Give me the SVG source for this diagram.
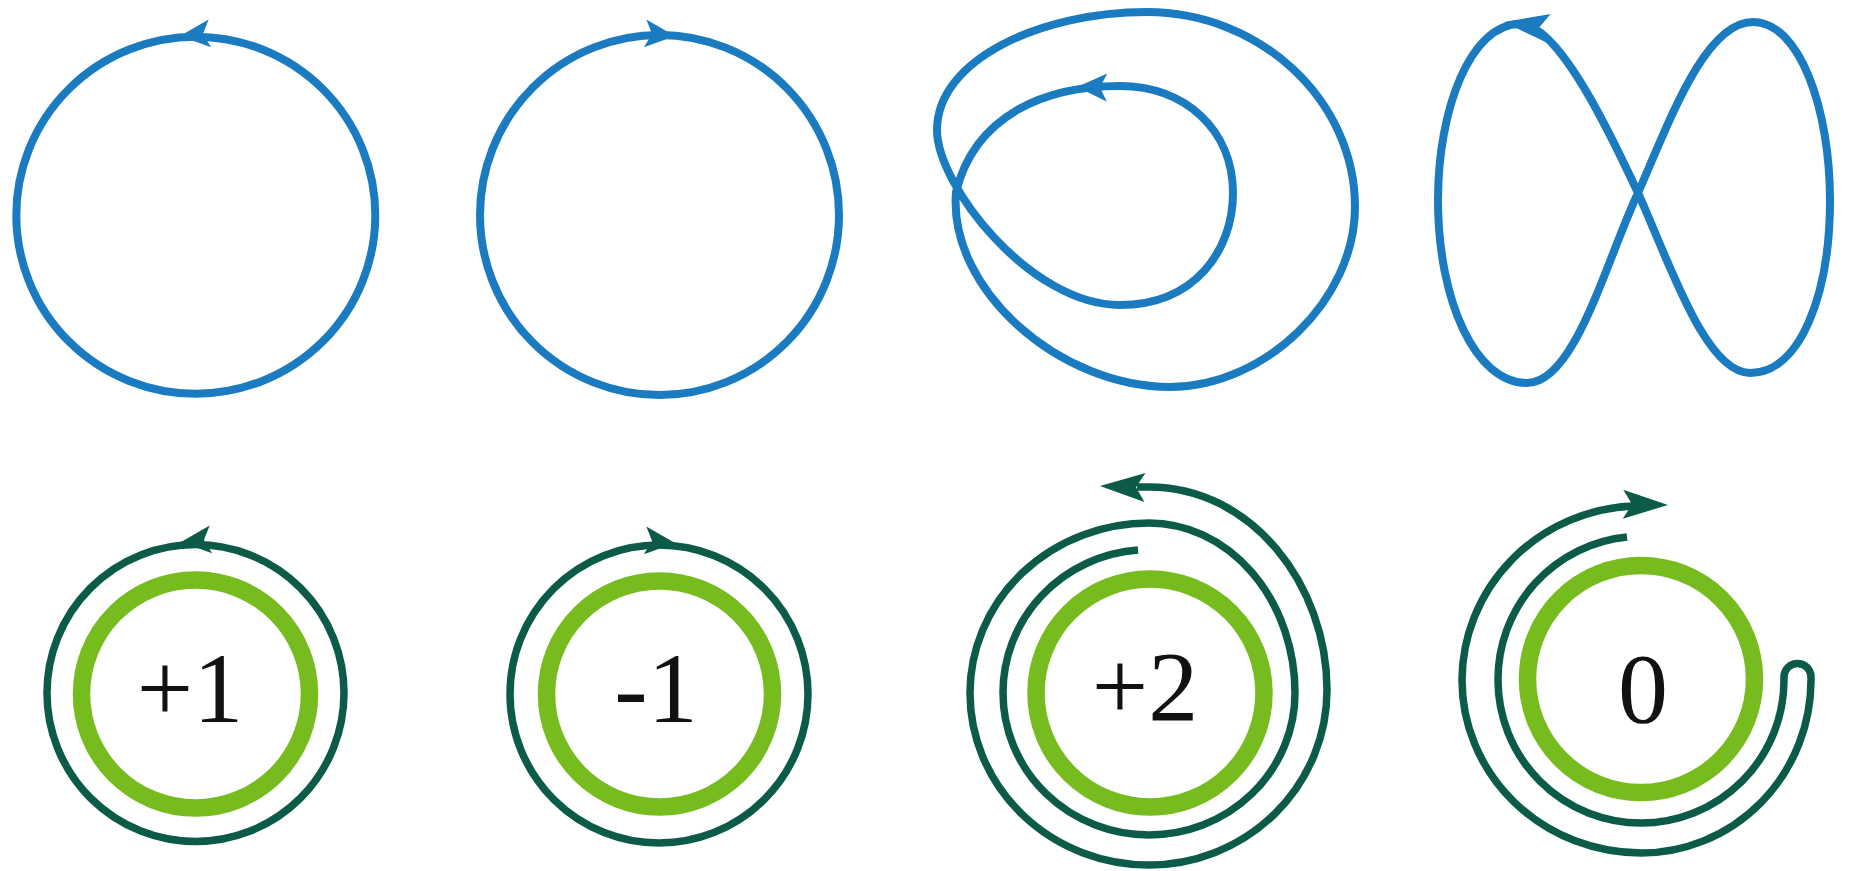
<svg xmlns="http://www.w3.org/2000/svg" xmlns:xlink="http://www.w3.org/1999/xlink" width="1851" height="871" viewBox="0 0 1851 871">
<style>
.blue{fill:none;stroke:#1a7bc0;stroke-width:8;stroke-linejoin:round}
.dark{fill:none;stroke:#0c5b48;stroke-width:7.5}
.ring{fill:none;stroke:#77bc1f;stroke-width:17.5}
.ahb{fill:#1a7bc0}
.ahd{fill:#0c5b48}
.lbl{font-family:"Liberation Serif","Times New Roman",serif;font-size:100px;fill:#111;text-anchor:middle}
</style>
<defs>
<path id="ahS" d="M0,0 L-30,-14 L-23,0 L-30,14 Z"/>
<path id="ahL" d="M0,0 L-45,-14.5 L-36,0 L-45,14.5 Z"/>
</defs>
<rect width="1851" height="871" fill="#fff"/>

<g id="loop-ccw">
<ellipse class="blue" cx="195.8" cy="215.2" rx="179.5" ry="178.5"/>
<use href="#ahS" class="ahb" transform="translate(180,36) rotate(175)"/>
</g>

<g id="loop-cw">
<ellipse class="blue" cx="659.5" cy="215" rx="179.5" ry="180"/>
<use href="#ahS" class="ahb" transform="translate(675,36) rotate(5)"/>
</g>

<g id="loop-double">
<path class="blue" d="M1120,86 C1045,86 975,115 956,192 C948,290 1060,387 1170,387 C1265,387 1355,300 1355,207 C1355,100 1260,12 1147,12 C1040,12 937,60 937,130 C937,185 1030,305 1120,305 C1195,305 1233,250 1233,193 C1233,130 1185,86 1120,86 Z"/>
<use href="#ahS" class="ahb" transform="translate(1077,87) rotate(181)"/>
</g>

<g id="loop-eight">
<path class="blue" d="M1638,193 C1600,111 1555,24 1520,24 C1470,24 1438,110 1438,200 C1438,300 1475,383 1527,383 C1575,383 1606,261 1638,193 C1670,120 1705,22 1753,22 C1800,22 1830,110 1830,200 C1830,295 1800,373 1750,373 C1705,373 1669,261 1638,193 Z"/>
<use href="#ahL" class="ahb" transform="translate(1504,22) rotate(188)"/>
</g>

<g id="wind-plus1">
<circle class="ring" cx="195.5" cy="694" r="114"/>
<circle class="dark" cx="195.5" cy="693" r="148.5"/>
<use href="#ahS" class="ahd" transform="translate(181,542) rotate(175)"/>
<text class="lbl" x="190" y="722">+1</text>
</g>

<g id="wind-minus1">
<circle class="ring" cx="659.5" cy="694" r="113"/>
<circle class="dark" cx="659" cy="694" r="149"/>
<use href="#ahS" class="ahd" transform="translate(675,543) rotate(5)"/>
<text class="lbl" x="656" y="722">-1</text>
</g>

<g id="wind-plus2">
<circle class="ring" cx="1150" cy="693" r="114"/>
<path class="dark" d="M1138,550 A146 143 0 0 0 1003,693 A146 142 0 0 0 1149,835 A146 142 0 0 0 1295,693 A146 170 0 0 0 1149,523 A179 170 0 0 0 970,693 A179 172 0 0 0 1149,865 A178 175 0 0 0 1327,690 C1327,585 1252,487 1149,487 L1137,487"/>
<use href="#ahL" class="ahd" transform="translate(1100,486) rotate(182)"/>
<text class="lbl" x="1145" y="720">+2</text>
</g>

<g id="wind-zero">
<circle class="ring" cx="1641" cy="679" r="113.5"/>
<path class="dark" d="M1627,537 A143 143 0 0 0 1498,680 A143 143 0 0 0 1641,823 A143 143 0 0 0 1784,680 L1784,677 A13.5 13.5 0 0 1 1811,677 L1811,680 A170 173 0 0 1 1641,853 A179 173 0 0 1 1462,680 A179 175 0 0 1 1633,506"/>
<use href="#ahL" class="ahd" transform="translate(1668,505) rotate(1)"/>
<text class="lbl" x="1643" y="722">0</text>
</g>
</svg>
